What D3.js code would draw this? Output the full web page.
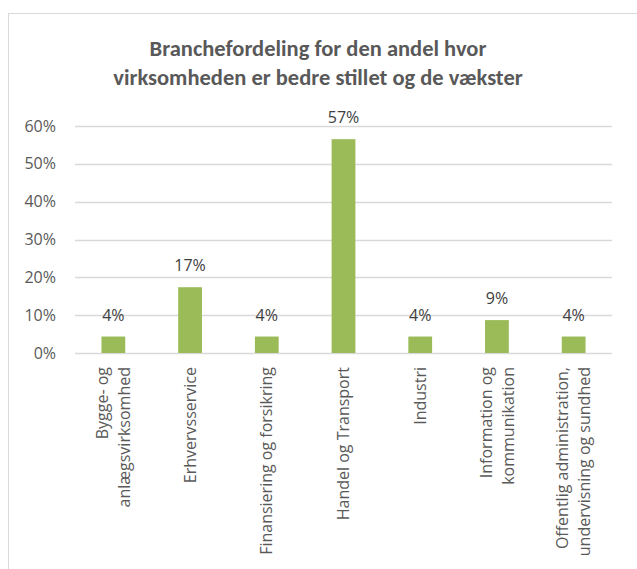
<!DOCTYPE html>
<html>
  <head>
	<meta charset="utf-8">
	<title>Branchefordeling</title>
	<script src="https://d3js.org/d3.v7.min.js"></script>
	<style>
		body { margin: 0; background: #fff; }
		text { font-family: "Open Sans", sans-serif; }
		text.title { font-family: Carlito, Lato, sans-serif; }
	</style>
  </head>
  <body>
	<svg id="chart" width="637" height="569"></svg>
	<script type="text/javascript">
		// data (shares of 23 companies)
		var categories = [
			["Bygge- og", "anlægsvirksomhed"],
			["Erhvervsservice"],
			["Finansiering og forsikring"],
			["Handel og Transport"],
			["Industri"],
			["Information og", "kommunikation"],
			["Offentlig administration,", "undervisning og sundhed"]
		];
		var values = [0.0435, 0.1739, 0.0435, 0.5652, 0.0435, 0.0870, 0.0435];
		var valueLabels = ["4%", "17%", "4%", "57%", "4%", "9%", "4%"];
		var yTicks = [0, 0.1, 0.2, 0.3, 0.4, 0.5, 0.6];
		var titleLines = ["Branchefordeling for den andel hvor", "virksomheden er bedre stillet og de vækster"];

		var svg = d3.select("#chart");
		var plot = {left: 75, right: 612, top: 126, bottom: 353};
		var fontSize = 16;

		// chart area border
		svg.append("rect")
			.attr("x", 8.5).attr("y", 13.5)
			.attr("width", 700).attr("height", 700)
			.attr("fill", "#fff")
			.attr("stroke", "#d9d9d9");

		var xScale = d3.scaleBand()
			.domain(d3.range(categories.length))
			.range([plot.left, plot.right])
			.paddingInner(0.69)
			.paddingOuter(0.345);

		var yScale = d3.scaleLinear()
			.domain([0, 0.6])
			.range([plot.bottom, plot.top]);

		// title
		svg.append("text")
			.attr("class", "title")
			.attr("text-anchor", "middle")
			.attr("font-weight", "bold")
			.attr("font-size", 22.5)
			.attr("fill", "#595959")
		  .selectAll("tspan")
			.data(titleLines)
			.enter().append("tspan")
			.attr("x", 318)
			.attr("y", function(d, i) { return 56 + i * 29; })
			.text(function(d) { return d; });

		// gridlines
		svg.append("g")
		  .selectAll("line")
			.data(yTicks)
			.enter().append("line")
			.attr("x1", plot.left).attr("x2", plot.right)
			.attr("y1", function(d) { return Math.round(yScale(d)) + 0.5; })
			.attr("y2", function(d) { return Math.round(yScale(d)) + 0.5; })
			.attr("stroke", "#d9d9d9")
			.attr("stroke-width", 1.3);

		// y axis labels
		var yAxis = svg.append("g")
			.attr("transform", "translate(" + (plot.left - 16) + ",0)")
			.call(d3.axisLeft(yScale).tickValues(yTicks).tickFormat(d3.format(".0%")).tickSize(0));
		yAxis.select(".domain").remove();
		yAxis.selectAll("text")
			.attr("font-family", null)
			.attr("font-size", fontSize)
			.attr("fill", "#595959");

		// bars
		svg.append("g")
		  .selectAll("rect")
			.data(values)
			.enter().append("rect")
			.attr("x", function(d, i) { return xScale(i); })
			.attr("width", xScale.bandwidth())
			.attr("y", function(d) { return yScale(d); })
			.attr("height", function(d) { return yScale(0) - yScale(d); })
			.attr("fill", "#9bbb59");

		// value labels
		svg.append("g")
		  .selectAll("text")
			.data(values)
			.enter().append("text")
			.attr("x", function(d, i) { return xScale(i) + xScale.bandwidth() / 2; })
			.attr("y", function(d) { return yScale(d) - 16; })
			.attr("text-anchor", "middle")
			.attr("font-size", fontSize)
			.attr("fill", "#404040")
			.text(function(d, i) { return valueLabels[i]; });

		// category labels, rotated
		var lineHeight = 22;
		var cat = svg.append("g")
		  .selectAll("text")
			.data(categories)
			.enter().append("text")
			.attr("transform", function(d, i) {
				return "translate(" + (xScale(i) + xScale.bandwidth() / 2) + ",367) rotate(-90)";
			})
			.attr("text-anchor", "end")
			.attr("font-size", fontSize)
			.attr("fill", "#595959");

		cat.selectAll("tspan")
			.data(function(d) { return d; })
			.enter().append("tspan")
			.attr("x", 0)
			.attr("y", function(d, i, nodes) {
				var n = nodes.length;
				return (i - (n - 1) / 2) * lineHeight;
			})
			.attr("dy", "0.35em")
			.text(function(d) { return d; });
	</script>
  </body>
</html>
